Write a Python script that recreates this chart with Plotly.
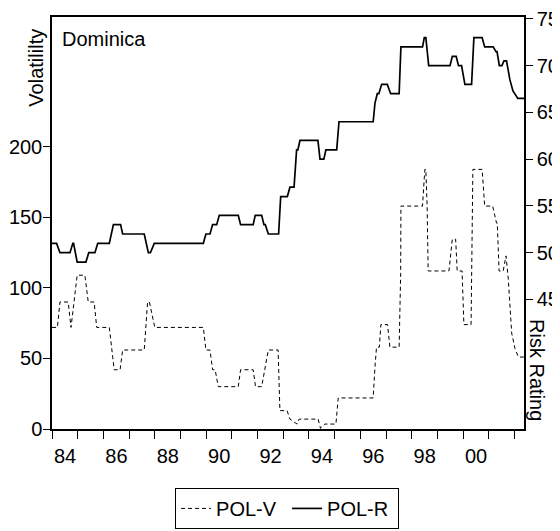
import plotly.graph_objects as go

# POL-V (volatility, left axis) polyline vertices: decimal year, value
pol_v_x = [1984.00, 1984.21, 1984.31, 1984.63, 1984.74, 1984.98, 1985.28, 1985.41, 1985.64, 1985.74,
           1986.23, 1986.42, 1986.65, 1986.75, 1987.59, 1987.72, 1987.79, 1988.00, 1989.89, 1989.99,
           1990.15, 1990.25, 1990.35, 1990.47, 1991.25, 1991.34, 1991.83, 1991.92, 1992.16, 1992.29,
           1992.42, 1992.80, 1992.87, 1993.15, 1993.26, 1993.54, 1993.62, 1994.36, 1994.45, 1994.62,
           1995.05, 1995.14, 1996.50, 1996.57, 1996.63, 1996.74, 1996.80, 1997.06, 1997.15, 1997.51,
           1997.57, 1997.58, 1998.42, 1998.51, 1998.55, 1998.60, 1998.64, 1999.45, 1999.58, 1999.71,
           1999.77, 1999.96, 2000.03, 2000.31, 2000.35, 2000.38, 2000.74, 2000.84, 2001.15, 2001.30,
           2001.33, 2001.40, 2001.56, 2001.67, 2001.76, 2001.89, 2002.02, 2002.15, 2002.37]
pol_v_y = [72, 72, 90, 90, 72, 109, 109, 90, 90, 72,
           72, 42, 42, 56, 56, 90, 90, 72, 72, 56,
           56, 42, 42, 30, 30, 42, 42, 30, 30, 42,
           56, 56, 13, 13, 7, 3.5, 7, 7, 0.5, 3.5,
           3.5, 22, 22, 44, 58, 58, 74, 74, 58, 58,
           110, 158, 158, 184, 184, 158, 112, 112, 134.5, 134.5,
           112, 112, 74, 74, 132, 184, 184, 158, 158, 146,
           146, 112, 112, 122.7, 106, 68, 57, 51, 51]

# POL-R (risk rating, right axis) polyline vertices
pol_r_x = [1984.00, 1984.18, 1984.31, 1984.70, 1984.81, 1984.84, 1984.98, 1985.32, 1985.43, 1985.67,
           1985.78, 1986.23, 1986.39, 1986.67, 1986.75, 1987.59, 1987.75, 1987.83, 1987.98, 1989.89,
           1989.99, 1990.15, 1990.25, 1990.41, 1990.51, 1991.25, 1991.34, 1991.83, 1991.91, 1992.16,
           1992.25, 1992.30, 1992.42, 1992.82, 1992.90, 1993.16, 1993.26, 1993.42, 1993.52, 1993.57,
           1993.65, 1994.35, 1994.43, 1994.58, 1994.66, 1995.08, 1995.17, 1996.50, 1996.57, 1996.66,
           1996.72, 1996.83, 1997.05, 1997.18, 1997.51, 1997.58, 1998.42, 1998.49, 1998.55, 1998.66,
           1999.49, 1999.58, 1999.73, 1999.82, 1999.94, 2000.07, 2000.33, 2000.42, 2000.74, 2000.84,
           2001.17, 2001.28, 2001.32, 2001.41, 2001.51, 2001.59, 2001.69, 2001.82, 2001.94, 2002.05,
           2002.13, 2002.37]
pol_r_y = [51, 51, 50, 50, 51, 51, 49, 49, 50, 50,
           51, 51, 53, 53, 52, 52, 50, 50, 51, 51,
           52, 52, 53, 53, 54, 54, 53, 53, 54, 54,
           53, 53, 52, 52, 56, 56, 57, 57, 61, 61,
           62, 62, 60, 60, 61, 61, 64, 64, 66, 67,
           67, 68, 68, 67, 67, 72, 72, 73, 73, 70,
           70, 71, 71, 70, 70, 68, 68, 73, 73, 72,
           72, 71.5, 71.5, 70, 70, 70.5, 70.5, 68.5, 67.3, 66.8,
           66.5, 66.5]

year_ticks = list(range(1984, 2003))
year_labels = ["84", "", "86", "", "88", "", "90", "", "92", "", "94", "", "96", "", "98", "", "00", "", ""]
left_ticks = [0, 50, 100, 150, 200]
right_ticks = [45, 50, 55, 60, 65, 70, 75]

FONT = "Arial, Liberation Sans, sans-serif"

fig = go.Figure()
fig.add_trace(go.Scatter(x=pol_v_x, y=pol_v_y, mode="lines", name="POL-V",
                         line=dict(color="black", width=1, dash="4px,3px"), yaxis="y"))
fig.add_trace(go.Scatter(x=pol_r_x, y=pol_r_y, mode="lines", name="POL-R",
                         line=dict(color="black", width=1.7), yaxis="y2"))

# page body adds an 8px margin, so the figure is sized 8px smaller each way
fig.update_layout(
    width=552, height=523,
    margin=dict(l=44, r=36, t=9, b=102, autoexpand=False),
    paper_bgcolor="white", plot_bgcolor="white",
    font=dict(family=FONT, size=20, color="black"),
    xaxis=dict(range=[1984, 2002.37], tickvals=year_ticks, ticktext=year_labels,
               ticks="outside", ticklen=8, tickwidth=1, tickcolor="black",
               ticklabelshift=13, showgrid=False, zeroline=False, automargin=False,
               showline=True, linecolor="black", linewidth=1.5, mirror=True,
               ticklabeloverflow="allow", tickfont=dict(size=20)),
    yaxis=dict(range=[0, 292], tickvals=left_ticks, ticks="outside", ticklen=7,
               tickwidth=1, tickcolor="black", showgrid=False, zeroline=False,
               showline=True, linecolor="black", linewidth=1.5, automargin=False,
               ticklabelstandoff=-3, ticklabeloverflow="allow", tickfont=dict(size=20)),
    yaxis2=dict(range=[31.15, 75.2], tickvals=right_ticks, overlaying="y", side="right",
                ticks="outside", ticklen=7, tickwidth=1, tickcolor="black",
                showgrid=False, zeroline=False, showline=True, linecolor="black",
                linewidth=1.5, automargin=False, ticklabeloverflow="allow",
                tickfont=dict(size=20)),
    legend=dict(orientation="h", x=0.498, y=-0.143, xanchor="center", yanchor="top",
                bordercolor="black", borderwidth=1, font=dict(size=20),
                entrywidth=66, bgcolor="white"),
    showlegend=True,
)

fig.add_annotation(text="Dominica", xref="paper", yref="paper", x=0.017, y=0.947,
                   xanchor="left", yanchor="middle", showarrow=False, font=dict(size=20))
fig.add_annotation(text="Volatililty", xref="paper", yref="paper", x=-0.034, y=0.877,
                   xanchor="center", yanchor="middle", textangle=-90, showarrow=False,
                   font=dict(size=20))
fig.add_annotation(text="Risk Rating", xref="paper", yref="paper", x=1.0275, y=0.143,
                   xanchor="center", yanchor="middle", textangle=90, showarrow=False,
                   font=dict(size=20))

fig.write_html("out.html")
